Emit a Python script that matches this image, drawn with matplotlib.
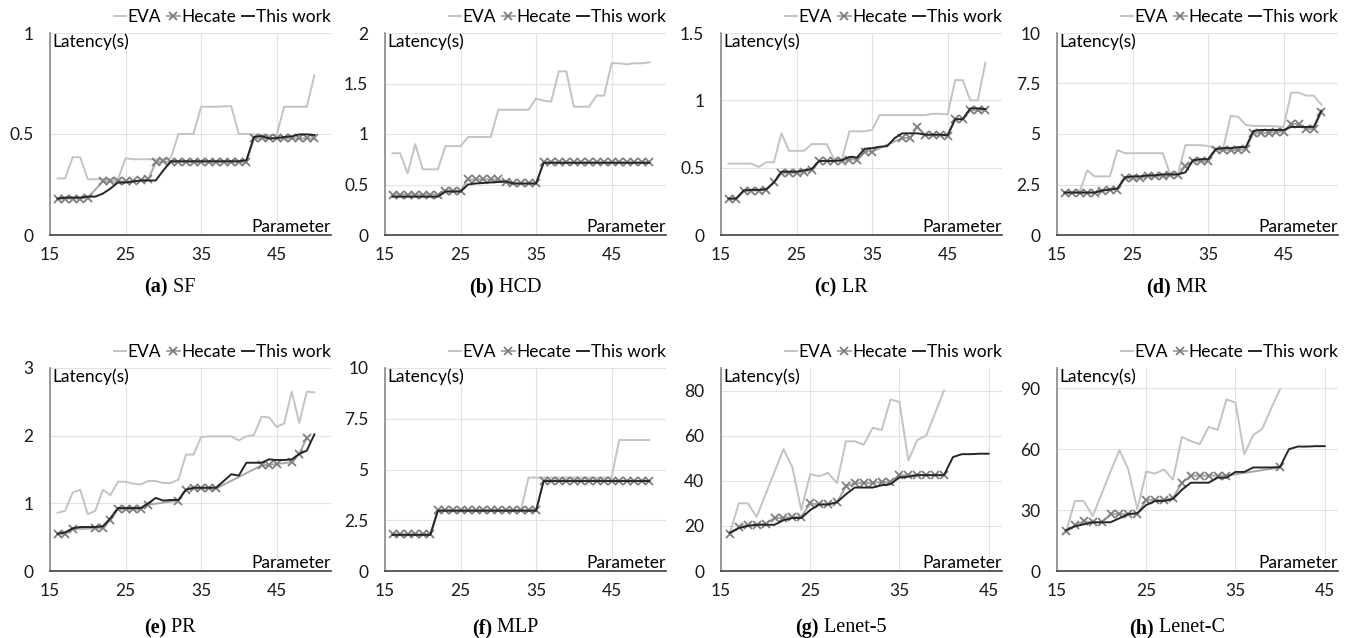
import matplotlib
matplotlib.use('Agg')
import matplotlib.pyplot as plt

plt.rcParams['font.family'] = ['Lato', 'DejaVu Sans']

# parameter values on the x axis
x_long = list(range(16, 51))      # panels a-f
x_short = list(range(16, 46))     # panels g-h, "This work"
x_short_cmp = list(range(16, 41)) # panels g-h, EVA / Hecate

# (a) SF
sf_eva = [0.28, 0.28, 0.385, 0.385, 0.276, 0.276, 0.276, 0.276, 0.276, 0.38,
          0.375, 0.375, 0.375, 0.375, 0.375, 0.38, 0.50, 0.50, 0.50, 0.635,
          0.635, 0.635, 0.637, 0.637, 0.50, 0.50, 0.497, 0.497, 0.495, 0.495,
          0.635, 0.635, 0.635, 0.635, 0.79]
sf_hecate = [0.18, 0.18, 0.18, 0.18, 0.185, None, 0.265, 0.265, 0.265, 0.265,
             0.265, 0.27, 0.275, 0.36, 0.365, 0.36, 0.36, 0.36, 0.36, 0.36,
             0.36, 0.36, 0.36, 0.36, 0.36, 0.36, 0.478, 0.478, 0.478, 0.478,
             0.478, 0.478, 0.478, 0.478, 0.478]
sf_ours = [0.18, 0.185, 0.185, 0.185, 0.19, 0.19, 0.205, 0.23, 0.26, 0.26,
           0.265, 0.27, 0.27, 0.27, 0.32, 0.365, 0.365, 0.365, 0.365, 0.365,
           0.365, 0.365, 0.365, 0.365, 0.365, 0.37, 0.485, 0.49, 0.478, 0.48,
           0.485, 0.488, 0.498, 0.498, 0.495]

# (b) HCD
hcd_eva = [0.81, 0.81, 0.61, 0.90, 0.65, 0.65, 0.65, 0.88, 0.88, 0.88,
           0.97, 0.97, 0.97, 0.97, 1.24, 1.24, 1.24, 1.24, 1.24, 1.35,
           1.33, 1.32, 1.62, 1.62, 1.27, 1.27, 1.27, 1.38, 1.38, 1.70,
           1.70, 1.69, 1.70, 1.70, 1.71]
hcd_hecate = [0.40] * 7 + [0.44] * 3 + [0.55] * 5 + [0.52] + [0.51] * 4 + [0.72] * 15
hcd_ours = [0.38] * 7 + [0.43] * 3 + [0.50, 0.51, 0.515, 0.52, 0.525, 0.53] + [0.51] * 4 + [0.715] * 15

# (c) LR
lr_eva = [0.53, 0.53, 0.53, 0.53, 0.505, 0.54, 0.54, 0.755, 0.625, 0.625,
          0.625, 0.675, 0.675, 0.675, 0.56, 0.56, 0.77, 0.77, 0.77, 0.78,
          0.89, 0.89, 0.89, 0.89, 0.89, 0.89, 0.89, 0.90, 0.90, 0.895,
          1.15, 1.15, 1.0, 1.0, 1.28]
lr_hecate = [0.27, 0.27, 0.33, 0.33, 0.33, 0.335, 0.39, 0.46, 0.46, 0.46,
             0.47, 0.48, 0.55, 0.55, 0.55, 0.55, 0.56, 0.56, 0.62, 0.62,
             None, None, None, 0.72, 0.72, 0.805, 0.74, 0.74, 0.74, 0.738,
             0.86, 0.86, 0.925, 0.925, 0.93]
lr_ours = [0.27, 0.27, 0.33, 0.335, 0.335, 0.34, 0.39, 0.47, 0.47, 0.47,
           0.48, 0.49, 0.55, 0.55, 0.55, 0.555, 0.58, 0.575, 0.64, 0.645,
           0.655, 0.66, 0.72, 0.755, 0.755, 0.755, 0.745, 0.745, 0.745, 0.74,
           0.86, 0.86, 0.94, 0.94, 0.935]

# (d) MR
mr_eva = [2.1, 2.1, 2.15, 3.2, 2.9, 2.9, 2.9, 4.2, 4.05, 4.05,
          4.05, 4.05, 4.05, 4.05, 3.0, 3.0, 4.45, 4.45, 4.45, 4.4,
          4.3, 4.3, 5.9, 5.85, 5.45, 5.4, 5.4, 5.4, 5.38, 5.35,
          7.05, 7.05, 6.9, 6.9, 6.45]
mr_hecate = [2.1, 2.1, 2.1, 2.1, 2.1, 2.2, 2.25, 2.25, 2.8, 2.8,
             2.8, 2.9, 2.9, 2.9, 2.95, 2.95, 3.4, 3.65, 3.65, 3.65,
             4.2, 4.2, 4.2, 4.2, 4.25, 5.05, 5.05, 5.05, 5.1, 5.1,
             5.5, 5.5, 5.25, 5.25, 6.1]
mr_ours = [2.1, 2.1, 2.1, 2.1, 2.1, 2.2, 2.25, 2.3, 2.85, 2.9,
           2.9, 2.95, 2.95, 3.0, 3.0, 3.0, 3.1, 3.7, 3.75, 3.75,
           4.25, 4.3, 4.3, 4.35, 4.35, 5.15, 5.2, 5.2, 5.2, 5.2,
           5.35, 5.35, 5.35, 5.35, 6.15]

# (e) PR
pr_eva = [0.86, 0.89, 1.16, 1.2, 0.84, 0.89, 1.2, 1.12, 1.32, 1.32,
          1.29, 1.28, 1.33, 1.33, 1.3, 1.3, 1.35, 1.72, 1.72, 1.98,
          1.99, 1.99, 1.99, 1.99, 1.93, 1.99, 2.01, 2.28, 2.27, 2.13,
          2.18, 2.65, 2.19, 2.65, 2.64]
pr_hecate = [0.55, 0.55, 0.62, None, None, 0.63, 0.64, 0.76, 0.91, 0.91,
             0.91, 0.91, 0.98, None, None, None, 1.04, 1.2, 1.22, 1.22,
             1.22, 1.22, None, None, None, None, None, 1.56, 1.57, 1.58,
             None, 1.61, 1.73, 1.97, None]
pr_ours = [0.55, 0.57, 0.63, 0.65, 0.65, 0.65, 0.66, 0.78, 0.93, 0.93,
           0.93, 0.93, 1.0, 1.08, 1.04, 1.05, 1.05, 1.2, 1.23, 1.23,
           1.23, 1.23, 1.33, 1.43, 1.41, 1.6, 1.6, 1.6, 1.65, 1.64,
           1.64, 1.65, 1.73, 1.78, 2.02]

# (f) MLP
mlp_eva = [1.8] * 6 + [3.0] * 12 + [4.6] * 12 + [6.45] * 5
mlp_hecate = [1.8] * 6 + [3.0] * 14 + [4.45] * 15
mlp_ours = [1.78] * 6 + [2.97] * 14 + [4.43] * 15

# (g) Lenet-5
l5_eva = [17, 30, 30, 24, 34, 44, 54, 46, 27, 43,
          42, 43.5, 39, 57.5, 57.5, 56, 63.5, 62.5, 76, 75,
          49, 58, 60, 70, 80]
l5_hecate = [16.5, 19.5, 20.5, 20.5, 21, 23.5, 23.5, 24, 24, 30,
             29.5, 29.5, 30.5, 37.5, 39, 39, 39, 39.5, 39.5, 42.5,
             42.5, 42.5, 42.5, 42.5, 42.5]
l5_ours = [17, 19, 20, 20.5, 20.5, 20.5, 22.5, 23.5, 23.5, 27,
           29.5, 29.5, 30.5, 34, 37, 37, 37, 38, 38.5, 41.5,
           41.8, 42.5, 42.5, 42.5, 42.5, 50.5, 51.8, 51.8, 52, 52]

# (h) Lenet-C
lc_eva = [19, 34.5, 34.5, 27, 38, 49, 59.5, 50, 30.5, 49,
          48, 50, 45, 66, 64, 62.5, 71, 69.5, 84.5, 83,
          57.5, 67, 70, 80, 89.5]
lc_hecate = [19.5, 22.5, 24.5, 24, 24, 28, 28, 28, 28, 35,
             35, 35, 36, 43.5, 47, 47, 47, 47, 47, None,
             None, None, None, None, 51]
lc_ours = [20, 22, 23, 24, 24, 24, 26, 28, 28.5, 32.5,
           34.5, 34.5, 35.5, 40, 43.5, 43.5, 43.5, 46, 46, 48.8,
           48.8, 51, 51, 51, 51.2, 60, 61.3, 61.3, 61.5, 61.5]

panels = [
    ('(a)', 'SF', x_long, x_long, sf_eva, sf_hecate, sf_ours, 1, [0, 0.5, 1]),
    ('(b)', 'HCD', x_long, x_long, hcd_eva, hcd_hecate, hcd_ours, 2, [0, 0.5, 1, 1.5, 2]),
    ('(c)', 'LR', x_long, x_long, lr_eva, lr_hecate, lr_ours, 1.5, [0, 0.5, 1, 1.5]),
    ('(d)', 'MR', x_long, x_long, mr_eva, mr_hecate, mr_ours, 10, [0, 2.5, 5, 7.5, 10]),
    ('(e)', 'PR', x_long, x_long, pr_eva, pr_hecate, pr_ours, 3, [0, 1, 2, 3]),
    ('(f)', 'MLP', x_long, x_long, mlp_eva, mlp_hecate, mlp_ours, 10, [0, 2.5, 5, 7.5, 10]),
    ('(g)', 'Lenet-5', x_short_cmp, x_short, l5_eva, l5_hecate, l5_ours, 90, [0, 20, 40, 60, 80]),
    ('(h)', 'Lenet-C', x_short_cmp, x_short, lc_eva, lc_hecate, lc_ours, 100, [0, 30, 60, 90]),
]

W, H = 1350, 638
fig = plt.figure(figsize=(W / 100, H / 100), dpi=100)

lefts = [50, 385, 721, 1057]
row_top = [33, 368]
row_bottom = [235, 571]
cap_y = [287, 628]
axw = 281
fs = 12.5

captions = []
for i, (tag, name, xc, xo, eva, hec, ours, ymax, yticks) in enumerate(panels):
    row, col = divmod(i, 4)
    left = lefts[col]
    h = row_bottom[row] - row_top[row]
    ax = fig.add_axes([left / W, (H - row_bottom[row]) / H, axw / W, h / H])

    ax.plot(xc, eva, color='#c3c3c3', lw=1.4, label='EVA', zorder=2)
    hx = [a for a, b in zip(xc, hec) if b is not None]
    hy = [b for b in hec if b is not None]
    ax.plot(hx, hy, color='#a8a8a8', lw=1.4, marker='x', ms=6, mew=1.3,
            mec='#7f7f7f', label='Hecate', zorder=3)
    ax.plot(xo, ours, color='#262626', lw=1.4, label='This work', zorder=4)

    if xo[-1] == 50:
        ax.set_xlim(15, 52.2)
    else:
        ax.set_xlim(15, 46.5)
    ax.set_ylim(0, ymax)
    ax.set_xticks([15, 25, 35, 45])
    ax.set_yticks(yticks)
    ax.set_yticklabels([f'{v:g}' for v in yticks])

    ax.grid(True, color='#e2e2e2', lw=0.8)
    ax.set_axisbelow(True)
    for s in ['top', 'right']:
        ax.spines[s].set_visible(False)
    ax.spines['left'].set_color('#8a8a8a')
    ax.spines['bottom'].set_color('#404040')
    ax.spines['left'].set_linewidth(1.2)
    ax.spines['bottom'].set_linewidth(1.2)
    ax.tick_params(length=0, labelsize=fs, colors='#1a1a1a')
    ax.tick_params(axis='y', pad=12)
    ax.tick_params(axis='x', pad=9)

    ax.text(0.01, 1.0, 'Latency(s)', transform=ax.transAxes, ha='left',
            va='top', fontsize=fs)
    ax.text(1.0, 0.0, 'Parameter', transform=ax.transAxes, ha='right',
            va='bottom', fontsize=fs)

    ax.legend(loc='lower right', bbox_to_anchor=(1.0, 1.04), ncol=3,
              frameon=False, fontsize=fs, handlelength=0.7,
              handletextpad=0.1, columnspacing=0.35, borderaxespad=0,
              borderpad=0)

    t1 = fig.text(0, (H - cap_y[row]) / H, tag, fontsize=14.5, fontweight='bold',
                  family='Liberation Serif', ha='left', va='center')
    t2 = fig.text(0, (H - cap_y[row]) / H, ' ' + name, fontsize=14.5,
                  family='Liberation Serif', ha='left', va='center')
    captions.append((t1, t2, left + 120))

fig.canvas.draw()
r = fig.canvas.get_renderer()
for t1, t2, cx in captions:
    w1 = t1.get_window_extent(r).width
    w2 = t2.get_window_extent(r).width
    x0 = cx - (w1 + w2) / 2
    t1.set_x(x0 / W)
    t2.set_x((x0 + w1) / W)

fig.savefig('out.png', dpi=100)
